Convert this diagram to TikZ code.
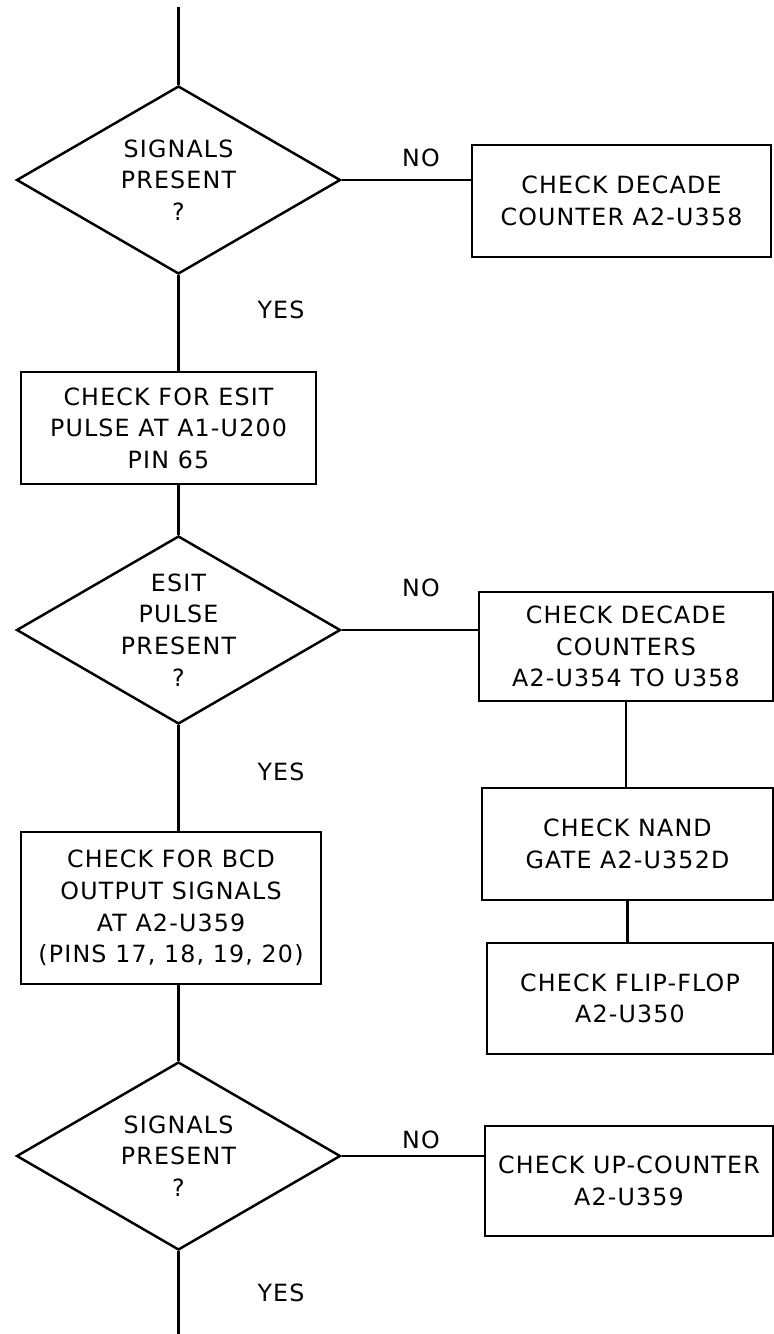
\documentclass[tikz,border=0pt]{standalone}
\usepackage{fontspec}
\setmainfont{DejaVu Sans}[LetterSpace=5]
\usetikzlibrary{shapes.geometric}

\begin{document}
\begin{tikzpicture}[
  box/.style={rectangle, draw, line width=1.6pt, align=center, font=\fontsize{13.5}{18}\selectfont, inner sep=2pt, execute at begin node={\rule{0pt}{17pt}}},
  test/.style={diamond, draw, line width=1.4pt, align=center, font=\fontsize{13.5}{18}\selectfont, inner sep=-6pt, execute at begin node={\rule{0pt}{17pt}}, aspect=1.72, minimum width=6.48cm, minimum height=3.76cm},
  tag/.style={font=\fontsize{13.5}{18}\selectfont},
  link/.style={line width=1.2pt},
]
\useasboundingbox (0,0) rectangle (15.46,-26.68);

% Main column
\coordinate (top) at (3.57,-0.14);
\node[test] (d1) at (3.57,-3.6) {SIGNALS\\PRESENT\\?};
\node[box, minimum width=5.9cm, minimum height=2.24cm] (b2) at (3.37,-8.56) {CHECK FOR ESIT\\PULSE AT A1-U200\\PIN 65};
\node[test] (d2) at (3.57,-12.6) {ESIT\\PULSE\\PRESENT\\?};
\node[box, minimum width=6cm, minimum height=3.04cm] (b6) at (3.42,-18.16) {CHECK FOR BCD\\OUTPUT SIGNALS\\AT A2-U359\\(PINS 17, 18, 19, 20)};
\node[test] (d3) at (3.57,-23.12) {SIGNALS\\PRESENT\\?};
\coordinate (bottom) at (3.57,-26.68);

% Right column
\node[box, minimum width=5.98cm, minimum height=2.24cm] (b1) at (12.43,-4.02) {CHECK DECADE\\COUNTER A2-U358};
\node[box, minimum width=5.88cm, minimum height=2.18cm] (b3) at (12.52,-12.93) {CHECK DECADE\\COUNTERS\\A2-U354 TO U358};
\node[box, minimum width=5.82cm, minimum height=2.24cm] (b4) at (12.55,-16.88) {CHECK NAND\\GATE A2-U352D};
\node[box, minimum width=5.72cm, minimum height=2.22cm] (b5) at (12.6,-19.97) {CHECK FLIP-FLOP\\A2-U350};
\node[box, minimum width=5.76cm, minimum height=2.2cm] (b7) at (12.58,-23.62) {CHECK UP-COUNTER\\A2-U359};

% Labels
\node[tag] (no1) at (8.42,-3.16) {NO};
\node[tag] (no2) at (8.42,-11.76) {NO};
\node[tag] (no3) at (8.42,-22.8) {NO};
\node[tag] (yes1) at (5.62,-6.2) {YES};
\node[tag] (yes2) at (5.62,-15.44) {YES};
\node[tag] (yes3) at (5.62,-25.86) {YES};

% Connectors
\draw[link] (top) -- (d1.north);
\draw[link] (d1.south) -- (d1.south |- b2.north);
\draw[link] (d1.south |- b2.south) -- (d2.north);
\draw[link] (d2.south) -- (d2.south |- b6.north);
\draw[link] (d2.south |- b6.south) -- (d3.north);
\draw[link] (d3.south) -- (bottom);
\draw[link] (d1.east) -- (d1.east -| b1.west);
\draw[link] (d2.east) -- (d2.east -| b3.west);
\draw[link] (d3.east) -- (d3.east -| b7.west);
\draw[link] (b3.south) -- (b3.south |- b4.north);
\draw[link] (b4.south) -- (b4.south |- b5.north);

\end{tikzpicture}
\end{document}
